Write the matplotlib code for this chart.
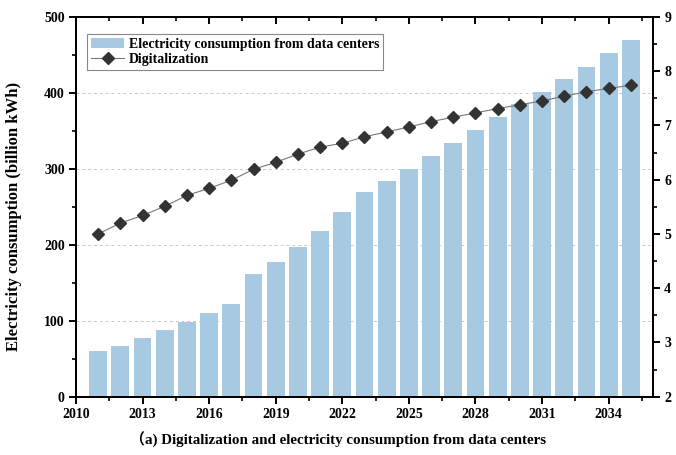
import matplotlib
matplotlib.use("Agg")
import matplotlib.pyplot as plt
from matplotlib.ticker import MultipleLocator

years = list(range(2011, 2036))
electricity = [60, 67, 77, 88, 99, 110, 122, 161, 178, 197, 218, 243, 269, 284, 300,
               317, 334, 351, 368, 385, 401, 418, 434, 452, 469]
digitalization = [5.00, 5.20, 5.34, 5.51, 5.71, 5.84, 5.99, 6.19, 6.32, 6.47, 6.60, 6.67,
                  6.79, 6.88, 6.97, 7.07, 7.15, 7.23, 7.31, 7.38, 7.45, 7.54, 7.62, 7.68, 7.74]
bar_label = "Electricity consumption from data centers"
line_label = "Digitalization"
ylabel = "Electricity consumption (billion kWh)"
caption = "（a) Digitalization and electricity consumption from data centers"

plt.rcParams['font.family'] = ['Liberation Serif', 'Noto Sans CJK SC']
plt.rcParams['font.weight'] = 'bold'

fig = plt.figure(figsize=(6.76, 4.55), dpi=100)
ax = fig.add_axes([0.1124, 0.128, 0.8536, 0.835])
ax2 = ax.twinx()

bars = ax.bar(years, electricity, width=0.8, color='#a7cae2', label=bar_label, zorder=2)
ax.set_xlim(2010, 2036)
ax.set_ylim(0, 500)
ax.xaxis.set_major_locator(MultipleLocator(3))
ax.xaxis.set_minor_locator(MultipleLocator(1.5))
ax.yaxis.set_major_locator(MultipleLocator(100))
ax.yaxis.set_minor_locator(MultipleLocator(50))
ax.set_axisbelow(True)
ax.grid(axis='y', which='major', linestyle=(0, (3, 3)), color='#c8c8c8', linewidth=0.7)
ax.set_ylabel(ylabel, fontsize=12, fontweight='bold')
ax.yaxis.set_label_coords(-0.094, 0.474)

line, = ax2.plot(years, digitalization, color='#777777', linewidth=0.8, marker='D',
                 markersize=6.5, markerfacecolor='#333333', markeredgecolor='#333333',
                 label=line_label, zorder=3)
ax2.set_ylim(2, 9)
ax2.yaxis.set_major_locator(MultipleLocator(1))
ax2.yaxis.set_minor_locator(MultipleLocator(0.5))

for a in (ax, ax2):
    for s in a.spines.values():
        s.set_linewidth(1.4)
ax.tick_params(axis='both', which='major', direction='out', length=5, width=1.4,
               labelsize=10, pad=3)
ax.tick_params(axis='both', which='minor', direction='out', length=3, width=1.2)
ax2.tick_params(axis='y', which='major', direction='out', length=5, width=1.4,
                labelsize=10, pad=3)
ax2.tick_params(axis='y', which='minor', direction='out', length=3, width=1.2)

top = ax.secondary_xaxis('top')
top.xaxis.set_major_locator(MultipleLocator(3))
top.xaxis.set_minor_locator(MultipleLocator(1.5))
top.tick_params(axis='x', which='major', direction='in', length=5, width=1.4, labeltop=False)
top.tick_params(axis='x', which='minor', direction='in', length=3, width=1.2)
top.spines['top'].set_linewidth(1.4)

for lbl in ax.get_xticklabels() + ax.get_yticklabels() + ax2.get_yticklabels():
    lbl.set_fontweight('bold')

leg = ax2.legend([bars, line], [bar_label, line_label], loc='upper left',
                 bbox_to_anchor=(0.019, 0.955), fancybox=False, edgecolor='#888888',
                 framealpha=1, prop={'weight': 'bold', 'size': 10},
                 handlelength=2.4, handletextpad=0.3, borderpad=0.3, labelspacing=0.15,
                 borderaxespad=0)
leg.get_frame().set_linewidth(0.8)

fig.text(0.5, 0.033, caption, ha='center', va='center', fontsize=10.8, fontweight='bold')

fig.savefig('out.png', dpi=100)
